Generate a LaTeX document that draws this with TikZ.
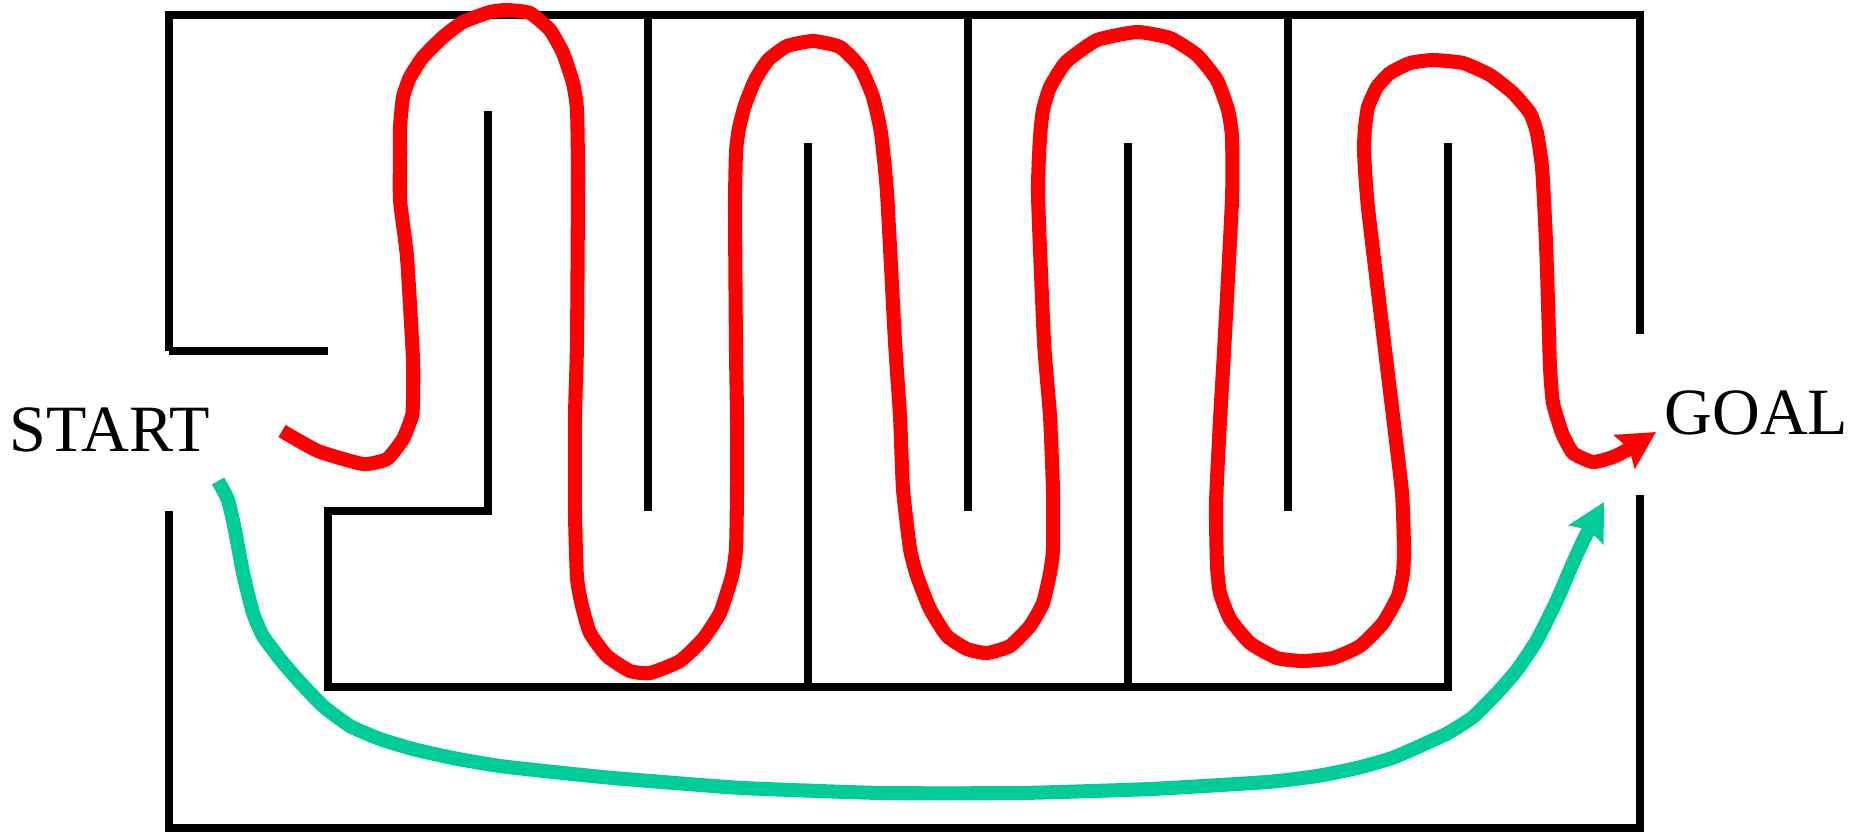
\documentclass[tikz,border=0pt]{standalone}
\usepackage{fontspec}
\setmainfont{Liberation Serif}
\usetikzlibrary{arrows.meta}
\definecolor{pathred}{RGB}{255,0,0}
\definecolor{pathgreen}{RGB}{0,204,153}
\tikzset{
  wall/.style={line width=2.4pt, black, line cap=butt, line join=miter},
  route/.style={line width=4pt, line join=round, line cap=butt,
    -{Stealth[length=10.5pt, width=11pt, inset=1.5pt]}},
  label/.style={font=\fontsize{18.8}{21}\selectfont, inner sep=0pt, anchor=base west}
}
\begin{document}
\begin{tikzpicture}[x=0.01cm, y=-0.01cm]
\useasboundingbox (0,0) rectangle (1851,832);
% outer walls
\draw[wall] (169,351) -- (169,15) -- (1640,15) -- (1640,334);
\draw[wall] (169,351) -- (328,351);
\draw[wall] (169,511) -- (169,828) -- (1640,828) -- (1640,495);
% inner walls
\draw[wall] (488,111) -- (488,511) -- (328,511) -- (328,687) -- (1448,687) -- (1448,143);
\draw[wall] (648,15) -- (648,511);
\draw[wall] (808,143) -- (808,687);
\draw[wall] (968,15) -- (968,511);
\draw[wall] (1128,143) -- (1128,687);
\draw[wall] (1288,15) -- (1288,511);
% labels
\node[label] (start) at (9,451) {START};
\node[label] (goal) at (1664,434) {GOAL};
% red route through the maze
\draw[route, pathred] plot[smooth, tension=0.3] coordinates {
 (282,431) (318,451) (363,464) (387,459) (403,439) (412,416) (413,400) (413,360)
 (407,257) (400,200) (400,150) (400,127) (403,97) (410,77) (423,57) (443,37)
 (463,22) (490,12) (507,10) (530,13) (550,30) (563,53) (573,83) (577,110)
 (578,177) (577,343) (575,416) (575,513) (577,578) (582,606) (590,633) (607,656)
 (630,671) (650,673) (680,661) (703,639) (720,613) (732,576) (736,549) (737,491)
 (737,416) (736,350) (735,208) (736,152) (739,128) (745,105) (755,80) (768,60)
 (787,46) (813,41) (840,47) (860,67) (873,97) (881,133) (887,193) (895,342)
 (900,416) (903,489) (910,549) (917,576) (930,609) (947,636) (967,649) (987,653)
 (1010,646) (1030,626) (1043,603) (1050,573) (1053,549) (1053,491) (1050,416)
 (1044,342) (1038,195) (1040,137) (1043,110) (1050,87) (1066,62) (1097,40)
 (1137,32) (1170,38) (1197,55) (1217,80) (1228,110) (1232,137) (1232,200)
 (1224,352) (1220,420) (1216,504) (1217,566) (1220,593) (1230,619) (1250,643)
 (1277,658) (1303,661) (1333,658) (1360,646) (1383,623) (1398,596) (1403,573)
 (1404,549) (1402,493) (1393,416) (1385,350) (1368,208) (1364,152) (1365,128)
 (1368,107) (1377,87) (1390,73) (1410,63) (1433,60) (1463,63) (1490,75)
 (1513,93) (1530,113) (1537,133) (1542,167) (1545,220) (1547,270) (1550,367)
 (1553,403) (1562,433) (1573,453) (1593,462) (1613,457) (1627,450) (1656,432)};
% green shortcut
\draw[route, pathgreen] plot[smooth, tension=0.3] coordinates {
 (218,481) (228,500) (235,530) (243,573) (253,613) (263,636) (280,659) (297,679)
 (323,706) (350,726) (380,739) (413,749) (453,758) (500,766) (563,773) (613,778)
 (650,781) (743,788) (882,793) (1020,793) (1150,789) (1267,782) (1317,776)
 (1357,768) (1392,758) (1420,746) (1448,733) (1473,717) (1497,693) (1517,670)
 (1537,640) (1557,600) (1572,565) (1585,537) (1604,502)};
\end{tikzpicture}
\end{document}
